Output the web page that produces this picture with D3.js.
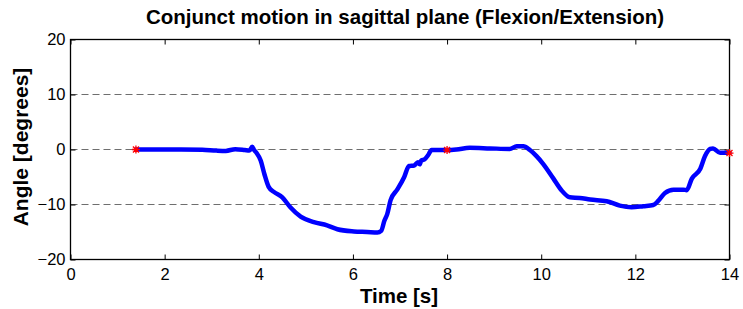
<!DOCTYPE html>
<html>
<head>
<meta charset="utf-8">
<script src="https://cdn.jsdelivr.net/npm/d3@7"></script>
<style>
  body { margin: 0; background: #fff; }
  text { font-family: "Liberation Sans", Arial, sans-serif; }
</style>
</head>
<body>
<svg width="743" height="309"></svg>
<script>
var svg = d3.select('svg');

// data
var time = [1.39, 2.0, 2.35, 2.8, 3.1, 3.3, 3.5, 3.7, 3.8, 3.86, 3.9, 3.95, 4.04, 4.12, 4.21, 4.32, 4.5,
            4.67, 4.89, 5.17, 5.45, 5.67, 6.02, 6.3, 6.52, 6.6, 6.67, 6.73, 6.8, 6.94, 7.09, 7.19, 7.3,
            7.38, 7.42, 7.45, 7.52, 7.6, 7.67, 8.0, 8.2, 8.48, 8.91, 9.33, 9.48, 9.62, 9.76, 9.9, 10.04,
            10.26, 10.43, 10.61, 10.82, 11.04, 11.39, 11.67, 11.92, 12.17, 12.38, 12.49, 12.63, 12.81,
            13.02, 13.09, 13.2, 13.38, 13.48, 13.59, 13.65, 13.8, 14.0];
var angle = [0, 0, 0, -0.05, -0.2, -0.25, 0.05, -0.1, -0.2, 0.5, -0.1, -0.6, -2.0, -4.5, -6.8, -7.7, -8.7,
             -10.5, -12.2, -13.2, -13.8, -14.5, -14.9, -15.0, -15.1, -14.8, -12.9, -11.7, -9.2, -7.3, -5.0, -3.0, -2.9,
             -2.3, -2.7, -2.0, -1.8, -1.0, -0.1, -0.1, 0.0, 0.3, 0.2, 0.1, 0.6, 0.6, -0.1, -1.2, -2.6,
             -5.3, -7.4, -8.7, -8.8, -9.1, -9.4, -10.2, -10.5, -10.3, -10.1, -9.3, -7.9, -7.3,
             -7.3, -7.4, -5.3, -3.5, -1.2, 0.1, 0.2, -0.6, -0.6];
var markTime = [1.39, 8.0, 14.0];
var markAngle = [0, -0.1, -0.65];
var xTicks = [0, 2, 4, 6, 8, 10, 12, 14];
var yTicks = [-20, -10, 0, 10, 20];

// plot box (careful: "top" is taken by window)
var pL = 70.5, pR = 729.5, pT = 39.5, pB = 259.5;

var x = d3.scaleLinear().domain([0, 14]).range([pL, pR]);
var y = d3.scaleLinear().domain([-20, 20]).range([pB, pT]);

// dashed grid
svg.selectAll('.grid')
    .data(yTicks.filter(function(d) { return d > -20; }))
    .enter()
    .append('line')
    .attr('x1', pL).attr('x2', pR)
    .attr('y1', function(d) { return y(d); })
    .attr('y2', function(d) { return y(d); })
    .attr('stroke', '#6e6e6e')
    .attr('stroke-width', 1.2)
    .attr('stroke-dasharray', '7,4');

// axes, ticks pointing inwards
svg.append('g').attr('transform', 'translate(0,' + pB + ')')
    .call(d3.axisBottom(x).tickValues(xTicks).tickSizeInner(-5).tickSizeOuter(0).tickPadding(9));
svg.append('g').attr('transform', 'translate(0,' + pT + ')')
    .call(d3.axisTop(x).tickValues(xTicks).tickSizeInner(-5).tickSizeOuter(0).tickFormat(''));
svg.append('g').attr('transform', 'translate(' + pL + ',0)')
    .call(d3.axisLeft(y).tickValues(yTicks).tickSizeInner(-5).tickSizeOuter(0).tickPadding(5));
svg.append('g').attr('transform', 'translate(' + pR + ',0)')
    .call(d3.axisRight(y).tickValues(yTicks).tickSizeInner(-5).tickSizeOuter(0).tickFormat(''));

svg.selectAll('.domain').remove();
svg.selectAll('.tick line').attr('stroke', '#000');
svg.selectAll('.tick text')
    .attr('font-size', 16.5)
    .attr('font-family', '"Liberation Sans", Arial, sans-serif')
    .attr('fill', '#000');

// box
svg.append('rect')
    .attr('x', pL).attr('y', pT)
    .attr('width', pR - pL).attr('height', pB - pT)
    .attr('fill', 'none')
    .attr('stroke', '#000')
    .attr('stroke-width', 1.3);

// the curve
var pts = time.map(function(t, i) { return [t, angle[i]]; });
var line = d3.line()
    .x(function(d) { return x(d[0]); })
    .y(function(d) { return y(d[1]); })
    .curve(d3.curveMonotoneX);

svg.append('path')
    .datum(pts)
    .attr('d', line)
    .attr('fill', 'none')
    .attr('stroke', '#0000ff')
    .attr('stroke-width', 4.5)
    .attr('stroke-linejoin', 'round')
    .attr('stroke-linecap', 'round');

// red star markers
var star = 'M-4,0H4M0,-4V4M-3,-3L3,3M-3,3L3,-3';
svg.selectAll('.mark')
    .data(markTime)
    .enter()
    .append('path')
    .attr('transform', function(d, i) { return 'translate(' + x(d) + ',' + y(markAngle[i]) + ')'; })
    .attr('d', star)
    .attr('stroke', '#ff0000')
    .attr('stroke-width', 1.3)
    .attr('fill', 'none');

// titles
svg.append('text')
    .attr('x', 405).attr('y', 24)
    .attr('text-anchor', 'middle')
    .attr('font-size', 20.5)
    .attr('font-weight', 'bold')
    .text('Conjunct motion in sagittal plane (Flexion/Extension)');

svg.append('text')
    .attr('x', 399).attr('y', 303)
    .attr('text-anchor', 'middle')
    .attr('font-size', 20.5)
    .attr('font-weight', 'bold')
    .text('Time [s]');

svg.append('text')
    .attr('transform', 'translate(28,147) rotate(-90)')
    .attr('text-anchor', 'middle')
    .attr('font-size', 21)
    .attr('font-weight', 'bold')
    .text('Angle [degrees]');
</script>
</body>
</html>
